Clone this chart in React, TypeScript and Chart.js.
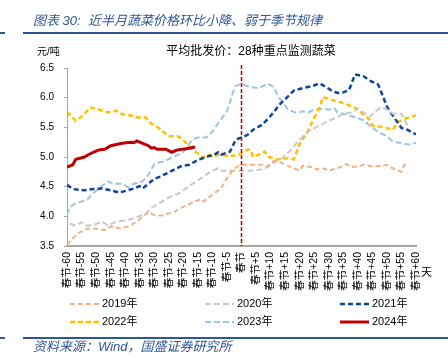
import { useEffect, useRef } from 'react';
import { Chart, registerables } from 'chart.js';

Chart.register(...registerables);

// ---------- data (day offset from Spring Festival, price in 元/吨) ----------
const seriesNames = ['2019年', '2020年', '2021年', '2022年', '2023年', '2024年'];

const days2019 = [-60, -58, -56, -53, -50, -47, -45, -42, -39, -37, -34, -32, -30, -29, -27, -23, -20, -16, -14, -13, -11, -7, -5, -3, -1, 0, 3, 7, 9, 11, 13, 16, 18, 20, 21, 24, 26, 28, 30, 32, 34, 36, 38, 40, 42, 45, 48, 50, 52, 55, 56, 57];
const vals2019 = [3.52, 3.63, 3.72, 3.79, 3.79, 3.77, 3.83, 3.80, 3.83, 3.88, 3.99, 4.07, 4.02, 4.01, 4.02, 4.08, 4.16, 4.25, 4.29, 4.25, 4.33, 4.47, 4.64, 4.78, 4.85, 4.87, 4.87, 4.87, 4.84, 4.93, 4.92, 4.85, 4.81, 4.77, 4.85, 4.83, 4.79, 4.81, 4.77, 4.80, 4.83, 4.88, 4.83, 4.84, 4.87, 4.84, 4.85, 4.87, 4.81, 4.75, 4.87, 4.88];

const days2020 = [-59, -57, -55, -53, -50, -48, -46, -43, -40, -37, -33, -31, -28, -25, -21, -18, -14, -11, -9, -8, -7, -4, -1, 3, 7, 9, 11, 14, 17, 20, 23, 26, 30, 33, 35, 38, 40, 42, 44, 46, 48, 50, 52, 55, 57, 58];
const vals2020 = [3.88, 3.84, 3.90, 3.84, 3.87, 3.91, 3.85, 3.91, 3.93, 3.97, 4.04, 4.14, 4.23, 4.32, 4.40, 4.51, 4.64, 4.74, 4.79, 4.81, 4.77, 4.77, 4.77, 4.77, 4.79, 4.83, 4.90, 4.98, 5.12, 5.29, 5.43, 5.51, 5.61, 5.67, 5.73, 5.75, 5.82, 5.75, 5.68, 5.77, 5.84, 5.80, 5.73, 5.73, 5.54, 5.51];

const days2021 = [-60, -58, -54, -51, -48, -45, -42, -39, -37, -35, -34, -32, -30, -28, -25, -21, -18, -15, -11, -10, -8, -7, -4, -2, 0, 2, 4, 7, 9, 11, 13, 16, 18, 21, 24, 27, 29, 31, 33, 35, 37, 39, 42, 44, 47, 48, 50, 51, 53, 55, 57, 60];
const vals2021 = [4.53, 4.46, 4.44, 4.46, 4.47, 4.44, 4.40, 4.44, 4.47, 4.51, 4.47, 4.55, 4.63, 4.67, 4.74, 4.84, 4.87, 4.95, 5.02, 5.02, 5.08, 5.04, 5.09, 5.29, 5.33, 5.37, 5.46, 5.54, 5.64, 5.75, 5.88, 6.02, 6.12, 6.16, 6.19, 6.24, 6.18, 6.12, 6.08, 6.09, 6.13, 6.39, 6.36, 6.29, 6.22, 6.10, 5.85, 5.77, 5.63, 5.49, 5.46, 5.38];

const days2022 = [-60, -57, -55, -52, -50, -47, -45, -43, -41, -38, -36, -34, -33, -31, -29, -27, -25, -22, -20, -18, -15, -13, -11, -10, -8, -6, -4, -1, 2, 3, 4, 6, 8, 9, 12, 16, 18, 20, 23, 25, 27, 28, 30, 33, 35, 39, 42, 44, 45, 48, 52, 54, 57, 60];
const vals2022 = [5.76, 5.61, 5.68, 5.83, 5.82, 5.76, 5.75, 5.78, 5.72, 5.70, 5.67, 5.66, 5.67, 5.56, 5.51, 5.43, 5.35, 5.35, 5.29, 5.17, 5.06, 4.99, 5.04, 5.00, 5.04, 5.03, 5.01, 5.04, 5.12, 5.13, 5.00, 5.04, 5.09, 5.01, 4.96, 4.98, 4.96, 5.22, 5.45, 5.66, 5.85, 6.01, 5.98, 5.93, 5.91, 5.83, 5.71, 5.63, 5.53, 5.51, 5.46, 5.60, 5.66, 5.70];

const days2023 = [-60, -59, -57, -53, -51, -49, -46, -44, -41, -39, -37, -34, -32, -30, -29, -27, -23, -20, -17, -15, -12, -10, -8, -5, -3, -2, 0, 3, 6, 9, 11, 13, 16, 19, 21, 23, 25, 28, 30, 32, 33, 35, 39, 42, 45, 48, 50, 52, 56, 58, 60];
const vals2023 = [4.03, 4.16, 4.22, 4.28, 4.39, 4.47, 4.59, 4.55, 4.55, 4.49, 4.55, 4.59, 4.70, 4.88, 4.90, 4.92, 5.01, 5.08, 5.29, 5.33, 5.33, 5.43, 5.57, 5.77, 6.08, 6.20, 6.23, 6.18, 6.16, 6.24, 6.18, 5.99, 5.80, 5.74, 5.77, 5.75, 5.80, 5.81, 5.80, 5.82, 5.75, 5.73, 5.67, 5.62, 5.49, 5.40, 5.35, 5.26, 5.22, 5.21, 5.24];

const days2024 = [-60, -58, -57, -54, -53, -51, -49, -47, -45, -43, -41, -38, -37, -36, -34, -32, -31, -30, -29, -26, -24, -22, -19, -16];
const vals2024 = [4.83, 4.87, 4.96, 5.00, 5.03, 5.08, 5.12, 5.13, 5.19, 5.21, 5.23, 5.25, 5.24, 5.27, 5.23, 5.19, 5.15, 5.16, 5.13, 5.13, 5.08, 5.12, 5.14, 5.17];

const seriesDays = [days2019, days2020, days2021, days2022, days2023, days2024];
const seriesVals = [vals2019, vals2020, vals2021, vals2022, vals2023, vals2024];

// ---------- styles ----------
const colors = ['#F4B183', '#C9C9C9', '#0B469E', '#FFC000', '#9DC3E6', '#C00000'];
const dashes = [[5, 3], [6, 3], [5, 3], [5, 3], [6, 3], []];
const widths = [2, 2, 2.5, 2.5, 2, 3];

const FONT = "'Liberation Sans', Arial, 'Noto Sans CJK SC', sans-serif";
const BLUE = '#2F5597';

const titleText = '图表 30:  近半月蔬菜价格环比小降、弱于季节规律';
const subTitle = '平均批发价：28种重点监测蔬菜';
const unitText = '元/吨';
const dayUnit = '天';
const sourceText = '资料来源：Wind，国盛证券研究所';

const xLabel = (v: number) => (v === 0 ? '春节' : v < 0 ? '春节' + v : '春节+' + v);

const decorPlugin = {
  id: 'decor',
  afterDatasetsDraw(chart: any) {
    const { ctx, chartArea, scales } = chart;
    const x0 = scales.x.getPixelForValue(0);
    ctx.save();
    ctx.strokeStyle = '#C00000';
    ctx.lineWidth = 1.5;
    ctx.setLineDash([4, 2]);
    ctx.beginPath();
    ctx.moveTo(x0, chartArea.top - 3);
    ctx.lineTo(x0, chartArea.bottom);
    ctx.stroke();
    ctx.restore();
  },
  afterDraw(chart: any) {
    const { ctx } = chart;
    ctx.save();
    // header
    ctx.fillStyle = BLUE;
    ctx.fillRect(0, 32, 5, 2);
    ctx.fillRect(23, 32, 425, 2);
    ctx.font = 'italic 13px ' + FONT;
    ctx.textBaseline = 'middle';
    ctx.textAlign = 'left';
    ctx.fillText(titleText, 33, 21);
    // unit + subtitle
    ctx.fillStyle = '#000';
    ctx.font = '10px ' + FONT;
    ctx.fillText(unitText, 37, 52);
    ctx.font = '12px ' + FONT;
    ctx.textAlign = 'center';
    ctx.fillText(subTitle, 251, 52);
    ctx.font = '11px ' + FONT;
    ctx.textAlign = 'left';
    ctx.fillText(dayUnit, 421, 273);
    // legend
    const colX = [70, 205, 340];
    const rowY = [304, 322];
    seriesNames.forEach((name, i) => {
      const x = colX[i % 3];
      const y = rowY[Math.floor(i / 3)];
      ctx.strokeStyle = colors[i];
      ctx.lineWidth = widths[i] + (i === 5 ? 0 : 0);
      ctx.setLineDash(dashes[i]);
      ctx.beginPath();
      ctx.moveTo(x, y);
      ctx.lineTo(x + 29, y);
      ctx.stroke();
      ctx.setLineDash([]);
      ctx.fillStyle = '#000';
      ctx.font = '11px ' + FONT;
      ctx.textAlign = 'left';
      ctx.fillText(name, x + 32, y);
    });
    // footer
    ctx.fillStyle = BLUE;
    ctx.fillRect(0, 337, 5, 2);
    ctx.fillRect(23, 337, 425, 2);
    ctx.font = 'italic 13px ' + FONT;
    ctx.fillText(sourceText, 33, 347);
    ctx.restore();
  },
};

export default function App() {
  const ref = useRef<HTMLCanvasElement>(null);
  useEffect(() => {
    if (!ref.current) return;
    const chart = new Chart(ref.current, {
      type: 'line',
      data: {
        datasets: seriesNames.map((name, i) => ({
          label: name,
          data: seriesDays[i].map((d, k) => ({ x: d, y: seriesVals[i][k] })),
          borderColor: colors[i],
          backgroundColor: colors[i],
          borderWidth: widths[i],
          borderDash: dashes[i],
          pointRadius: 0,
          tension: 0,
          fill: false,
          order: i === 5 ? 0 : 1,
        })),
      },
      options: {
        responsive: false,
        animation: false,
        layout: { padding: { top: 68, right: 32, left: 0, bottom: 0 } },
        plugins: { legend: { display: false }, tooltip: { enabled: false }, title: { display: false } },
        scales: {
          x: {
            type: 'linear',
            min: -60,
            max: 60,
            grid: { display: false, drawTicks: false },
            border: { display: true, color: '#A6A6A6', width: 2 },
            ticks: {
              stepSize: 5,
              autoSkip: false,
              minRotation: 90,
              maxRotation: 90,
              padding: 6,
              color: '#000',
              font: { family: FONT, size: 10.5 },
              callback: (v: any) => xLabel(Number(v)),
            },
            afterFit: (s: any) => { s.height = 114; },
          },
          y: {
            min: 3.5,
            max: 6.5,
            grid: { display: true, drawOnChartArea: false, drawTicks: true, tickLength: 3, color: '#A6A6A6' },
            border: { display: true, color: '#A6A6A6', width: 1 },
            ticks: {
              stepSize: 0.5,
              padding: 10,
              color: '#000',
              font: { family: FONT, size: 10 },
              callback: (v: any) => Number(v).toFixed(1),
            },
            afterFit: (s: any) => { s.width = 67; },
          },
        },
      },
      plugins: [decorPlugin],
    });
    return () => chart.destroy();
  }, []);
  return (
    <div style={{ position: 'fixed', left: 0, top: 0, width: 448, height: 360, background: '#fff' }}>
      <canvas ref={ref} width={448} height={360} style={{ display: 'block' }} />
    </div>
  );
}
